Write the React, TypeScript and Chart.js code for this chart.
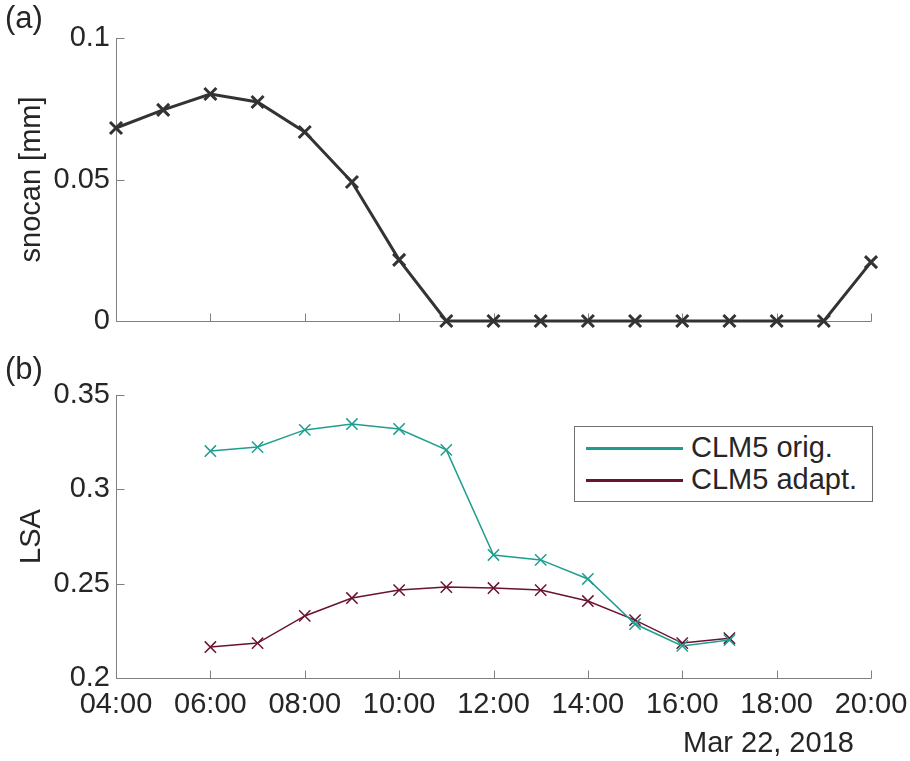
import React, { useEffect, useRef } from 'react';
import { Chart, registerables } from 'chart.js';
Chart.register(...registerables);

// ---- data ----
const hoursA = [4, 5, 6, 7, 8, 9, 10, 11, 12, 13, 14, 15, 16, 17, 18, 19, 20];
const snocan = [0.0682, 0.0746, 0.0802, 0.0774, 0.0668, 0.0491, 0.0216, 0, 0, 0, 0, 0, 0, 0, 0, 0, 0.0208];
const hoursB = [6, 7, 8, 9, 10, 11, 12, 13, 14, 15, 16, 17];
const lsaOrig = [0.3203, 0.3224, 0.3315, 0.3346, 0.332, 0.3209, 0.2652, 0.2626, 0.2525, 0.2286, 0.217, 0.2201];
const lsaAdapt = [0.2164, 0.2185, 0.2329, 0.2424, 0.2466, 0.2482, 0.2477, 0.2466, 0.2408, 0.2307, 0.2185, 0.2211];
const xTicks = [4, 6, 8, 10, 12, 14, 16, 18, 20];
const yTicksA = [0, 0.05, 0.1];
const yTicksB = [0.2, 0.25, 0.3, 0.35];
const seriesNames = ['CLM5 orig.', 'CLM5 adapt.'];
const dateLabel = 'Mar 22, 2018';

const FONT = "'Liberation Sans', Arial, sans-serif";
const FS = 29;
const TEXT = '#262626';
const AXIS = '#808080';
const TEAL = '#1f9e8f';
const WINE = '#6b1232';
const DARK = '#333333';

const fmtHour = (v: number) => String(v).padStart(2, '0') + ':00';
const fmtNum = (v: number) => String(Number(Number(v).toFixed(4)));

const inwardAxes = {
  id: 'inwardAxes',
  beforeDatasetsDraw(chart: any) {
    const xs = chart.scales.x;
    const ys = chart.scales.y;
    const ctx = chart.ctx;
    ctx.save();
    ctx.strokeStyle = AXIS;
    ctx.lineWidth = 1;
    ctx.beginPath();
    const L = Math.round(xs.left) + 0.5;
    const B = Math.round(ys.bottom) + 0.5;
    ctx.moveTo(L, Math.round(ys.top));
    ctx.lineTo(L, B);
    ctx.lineTo(Math.round(xs.right) + 0.5, B);
    xs.ticks.forEach((t: any) => {
      const px = Math.round(xs.getPixelForValue(t.value)) + 0.5;
      ctx.moveTo(px, B);
      ctx.lineTo(px, B - 8);
    });
    ys.ticks.forEach((t: any) => {
      const py = Math.round(ys.getPixelForValue(t.value)) + 0.5;
      ctx.moveTo(L, py);
      ctx.lineTo(L + 8, py);
    });
    ctx.stroke();
    ctx.restore();
  },
};

function makeXScale(showLabels: boolean, height: number) {
  return {
    type: 'linear',
    min: 4,
    max: 20,
    afterBuildTicks: (s: any) => { s.ticks = xTicks.map((v) => ({ value: v })); },
    afterFit: (s: any) => { s.height = height; s.paddingLeft = 0; s.paddingRight = 0; },
    grid: { display: false, drawTicks: false },
    border: { display: false },
    ticks: {
      display: showLabels,
      padding: 10,
      color: TEXT,
      font: { family: FONT, size: FS },
      maxRotation: 0,
      autoSkip: false,
      callback: (v: any) => fmtHour(Number(v)),
    },
  };
}

function makeYScale(min: number, max: number, ticks: number[], title: string) {
  return {
    type: 'linear',
    min,
    max,
    afterBuildTicks: (s: any) => { s.ticks = ticks.map((v) => ({ value: v })); },
    afterFit: (s: any) => { s.width = 116; s.paddingTop = 0; s.paddingBottom = 0; },
    grid: { display: false, drawTicks: false },
    border: { display: false },
    ticks: {
      padding: 6,
      color: TEXT,
      font: { family: FONT, size: FS },
      callback: (v: any) => fmtNum(v),
    },
    title: {
      display: true,
      text: title,
      color: TEXT,
      font: { family: FONT, size: FS },
      padding: { top: 15, bottom: 0 },
    },
  };
}

export default function App() {
  const topRef = useRef<HTMLCanvasElement>(null);
  const botRef = useRef<HTMLCanvasElement>(null);

  useEffect(() => {
    const top = new Chart(topRef.current as HTMLCanvasElement, {
      type: 'line',
      data: {
        datasets: [
          {
            label: 'snocan',
            data: hoursA.map((h, i) => ({ x: h, y: snocan[i] })),
            borderColor: DARK,
            backgroundColor: DARK,
            borderWidth: 3,
            pointStyle: 'crossRot',
            pointRadius: 8.5,
            pointBorderWidth: 3,
            pointBorderColor: DARK,
            tension: 0,
            clip: false,
          } as any,
        ],
      },
      options: {
        responsive: false,
        animation: false,
        layout: { padding: { top: 38, right: 39, bottom: 0, left: 0 } },
        plugins: { legend: { display: false }, tooltip: { enabled: false } },
        scales: {
          x: makeXScale(false, 19) as any,
          y: makeYScale(0, 0.1, yTicksA, 'snocan [mm]') as any,
        },
      },
      plugins: [inwardAxes],
    });

    const bot = new Chart(botRef.current as HTMLCanvasElement, {
      type: 'line',
      data: {
        datasets: [
          {
            label: seriesNames[0],
            data: hoursB.map((h, i) => ({ x: h, y: lsaOrig[i] })),
            borderColor: TEAL,
            backgroundColor: TEAL,
            borderWidth: 1.5,
            pointStyle: 'crossRot',
            pointRadius: 8,
            pointBorderWidth: 1.5,
            pointBorderColor: TEAL,
            tension: 0,
            clip: false,
          } as any,
          {
            label: seriesNames[1],
            data: hoursB.map((h, i) => ({ x: h, y: lsaAdapt[i] })),
            borderColor: WINE,
            backgroundColor: WINE,
            borderWidth: 1.5,
            pointStyle: 'crossRot',
            pointRadius: 8,
            pointBorderWidth: 1.5,
            pointBorderColor: WINE,
            tension: 0,
            clip: false,
          } as any,
        ],
      },
      options: {
        responsive: false,
        animation: false,
        layout: { padding: { top: 55, right: 39, bottom: 0, left: 0 } },
        plugins: { legend: { display: false }, tooltip: { enabled: false } },
        scales: {
          x: makeXScale(true, 83) as any,
          y: makeYScale(0.2, 0.35, yTicksB, 'LSA') as any,
        },
      },
      plugins: [inwardAxes],
    });

    return () => {
      top.destroy();
      bot.destroy();
    };
  }, []);

  const txt: React.CSSProperties = {
    position: 'absolute',
    fontFamily: FONT,
    fontSize: FS,
    lineHeight: FS + 'px',
    color: TEXT,
    whiteSpace: 'nowrap',
  };

  return (
    <div style={{ position: 'absolute', left: 0, top: 0, width: 910, height: 761, background: '#fff', overflow: 'hidden' }}>
      <canvas ref={topRef} width={910} height={340} style={{ position: 'absolute', left: 0, top: 0 }} />
      <canvas ref={botRef} width={910} height={421} style={{ position: 'absolute', left: 0, top: 340 }} />
      <div style={{ ...txt, left: 5, top: 2, fontSize: 31, lineHeight: '31px' }}>(a)</div>
      <div style={{ ...txt, left: 5, top: 353, fontSize: 31, lineHeight: '31px' }}>(b)</div>
      <div style={{ ...txt, left: 683, top: 728 }}>{dateLabel}</div>
      <div
        style={{
          position: 'absolute',
          left: 574,
          top: 426,
          width: 297,
          height: 74,
          border: '1px solid #707070',
          background: '#fff',
        }}
      >
        <div style={{ position: 'absolute', left: 11, top: 20, width: 97, height: 3, background: TEAL }} />
        <div style={{ position: 'absolute', left: 11, top: 52, width: 97, height: 3, background: WINE }} />
        <div style={{ ...txt, left: 116, top: 6 }}>{seriesNames[0]}</div>
        <div style={{ ...txt, left: 116, top: 38 }}>{seriesNames[1]}</div>
      </div>
    </div>
  );
}
